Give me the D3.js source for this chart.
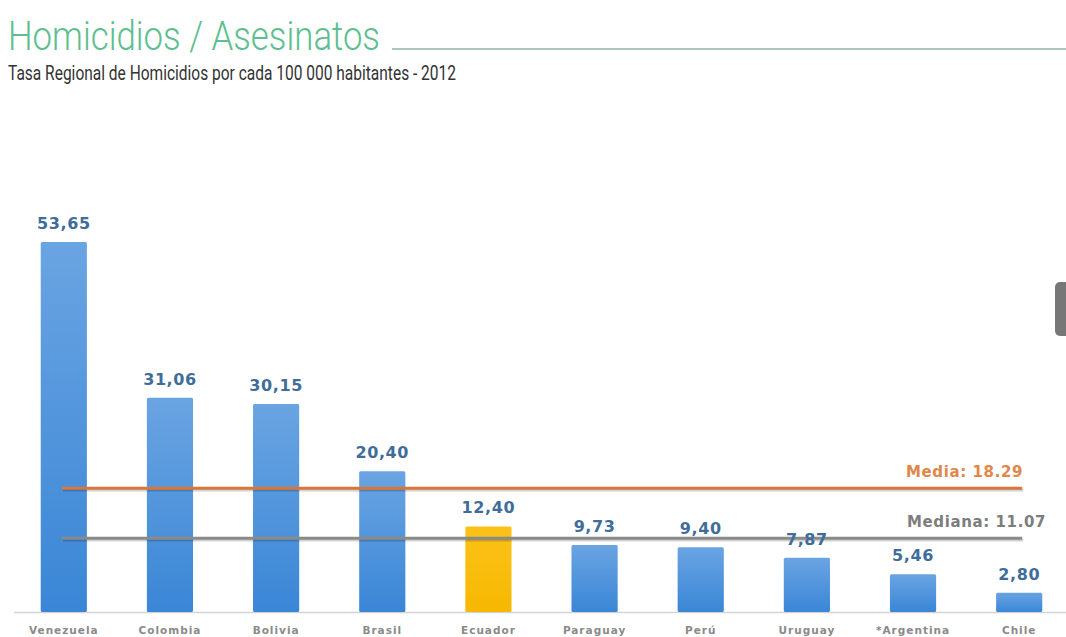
<!DOCTYPE html>
<html>
<head>
<meta charset="utf-8">
<script src="https://cdn.jsdelivr.net/npm/d3@7/dist/d3.min.js"></script>
<style>
  html, body { margin: 0; padding: 0; background: #fff; }
  svg { display: block; }
</style>
</head>
<body>
<svg id="chart" width="1066" height="637"></svg>
<script>
// Homicide rate per 100 000 inhabitants, 2012
const countries = ["Venezuela", "Colombia", "Bolivia", "Brasil", "Ecuador", "Paraguay", "Perú", "Uruguay", "*Argentina", "Chile"];
const rates = [53.65, 31.06, 30.15, 20.40, 12.40, 9.73, 9.40, 7.87, 5.46, 2.80];
const highlighted = ["Ecuador"];
const meanValue = 18.29;
const medianValue = 11.07;

const W = 1066, H = 637;
const baseY = 612;
const svg = d3.select("#chart");

const defs = svg.append("defs");
const gBlue = defs.append("linearGradient").attr("id", "gBlue").attr("x1", 0).attr("y1", 0).attr("x2", 0).attr("y2", 1);
gBlue.append("stop").attr("offset", "0%").attr("stop-color", "#6aa4e2");
gBlue.append("stop").attr("offset", "100%").attr("stop-color", "#3a86d6");
const gGold = defs.append("linearGradient").attr("id", "gGold").attr("x1", 0).attr("y1", 0).attr("x2", 0).attr("y2", 1);
gGold.append("stop").attr("offset", "0%").attr("stop-color", "#fcc21a");
gGold.append("stop").attr("offset", "100%").attr("stop-color", "#f6b800");

// Title block
svg.append("text")
  .attr("x", 8).attr("y", 50)
  .attr("font-family", "Roboto, 'Open Sans', sans-serif")
  .attr("font-weight", 300)
  .attr("font-size", 40)
  .attr("fill", "#5dbf8f")
  .attr("textLength", 372)
  .attr("lengthAdjust", "spacingAndGlyphs")
  .text("Homicidios / Asesinatos");

svg.append("line")
  .attr("x1", 392).attr("x2", W).attr("y1", 49).attr("y2", 49)
  .attr("stroke", "#8fb3a4").attr("stroke-width", 1.5);

svg.append("text")
  .attr("x", 8).attr("y", 80)
  .attr("font-family", "Roboto, 'Open Sans', sans-serif")
  .attr("font-size", 20)
  .attr("fill", "#333")
  .attr("textLength", 448)
  .attr("lengthAdjust", "spacingAndGlyphs")
  .text("Tasa Regional de Homicidios por cada 100 000 habitantes - 2012");

// Scales
const x = d3.scaleBand()
  .domain(countries)
  .range([11, 1072])
  .paddingInner(0.565)
  .paddingOuter(0.28);

const y = d3.scaleLinear()
  .domain([0, 53.65])
  .range([baseY, 242]);

// Baseline
svg.append("line")
  .attr("x1", 14).attr("x2", W).attr("y1", baseY + 0.5).attr("y2", baseY + 0.5)
  .attr("stroke", "#d4d4d4").attr("stroke-width", 1.5);

// Bars
svg.append("g").selectAll("rect")
  .data(countries)
  .join("rect")
  .attr("x", d => x(d))
  .attr("y", (d, i) => y(rates[i]))
  .attr("width", x.bandwidth())
  .attr("height", (d, i) => baseY - y(rates[i]))
  .attr("rx", 1.5)
  .attr("fill", d => highlighted.includes(d) ? "url(#gGold)" : "url(#gBlue)");

// Mean and median reference lines
const refs = [
  { value: meanValue, color: "#d9773a", label: "Media: 18.29", labelColor: "#e0874a", anchorX: 1023 },
  { value: medianValue, color: "#8a8a8a", label: "Mediana: 11.07", labelColor: "#7d7d7d", anchorX: 1046 }
];
const lineX1 = x(countries[0]) + x.bandwidth() / 2 - 2;
const lineX2 = x(countries[countries.length - 1]) + x.bandwidth() / 2 + 3;

const refG = svg.append("g");
// soft shadow under each line
refG.selectAll("line.shade")
  .data(refs)
  .join("line")
  .attr("class", "shade")
  .attr("x1", lineX1 + 1).attr("x2", lineX2 + 1)
  .attr("y1", d => y(d.value) + 4.5).attr("y2", d => y(d.value) + 4.5)
  .attr("stroke", "#000").attr("stroke-opacity", 0.18)
  .attr("stroke-width", 2.5);
refG.selectAll("line.ref")
  .data(refs)
  .join("line")
  .attr("class", "ref")
  .attr("x1", lineX1).attr("x2", lineX2)
  .attr("y1", d => y(d.value) + 2.5).attr("y2", d => y(d.value) + 2.5)
  .attr("stroke", d => d.color)
  .attr("stroke-width", 3);

svg.append("g").selectAll("text")
  .data(refs)
  .join("text")
  .attr("x", d => d.anchorX)
  .attr("y", d => y(d.value) - 9)
  .attr("text-anchor", "end")
  .attr("font-family", "'DejaVu Sans', Verdana, sans-serif")
  .attr("font-weight", "bold")
  .attr("font-size", 15)
  .attr("letter-spacing", 0.6)
  .attr("fill", d => d.labelColor)
  .text(d => d.label);

// Value labels above bars
svg.append("g").selectAll("text")
  .data(countries)
  .join("text")
  .attr("x", d => x(d) + x.bandwidth() / 2)
  .attr("y", (d, i) => y(rates[i]) - 13)
  .attr("text-anchor", "middle")
  .attr("font-family", "'DejaVu Sans', Verdana, sans-serif")
  .attr("font-weight", "bold")
  .attr("font-size", 16)
  .attr("letter-spacing", 0.6)
  .attr("fill", "#3f6d99")
  .text((d, i) => d3.format(".2f")(rates[i]).replace(".", ","));

// Category labels
svg.append("g").selectAll("text")
  .data(countries)
  .join("text")
  .attr("x", d => x(d) + x.bandwidth() / 2)
  .attr("y", 634)
  .attr("text-anchor", "middle")
  .attr("font-family", "'DejaVu Sans', Verdana, sans-serif")
  .attr("font-weight", "bold")
  .attr("font-size", 10.5)
  .attr("letter-spacing", 1)
  .attr("fill", "#8a8a8a")
  .text(d => d);

// Side tab at the right edge
svg.append("rect")
  .attr("x", 1055).attr("y", 282)
  .attr("width", 20).attr("height", 54)
  .attr("rx", 5)
  .attr("fill", "#777");
</script>
</body>
</html>
